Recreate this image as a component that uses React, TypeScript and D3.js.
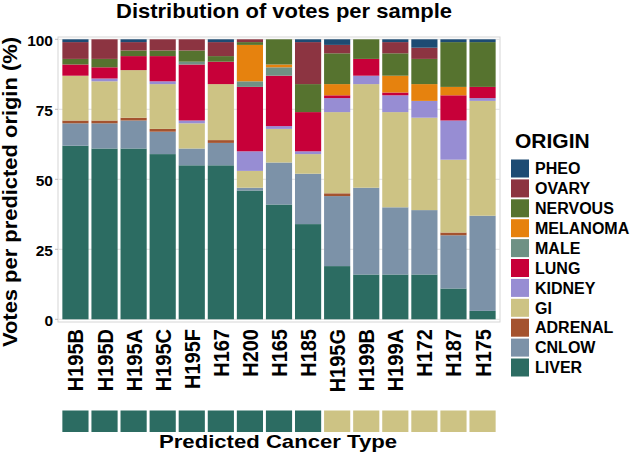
import React from 'react';
import * as d3 from 'd3';

// samples, left to right
const samples = ['H195B','H195D','H195A','H195C','H195F','H167','H200','H165','H185','H195G','H199B','H199A','H172','H187','H175'];
const predicted = ['LIVER','LIVER','LIVER','LIVER','LIVER','LIVER','LIVER','LIVER','LIVER','GI','GI','GI','GI','GI','GI'];

// votes (%) per origin, one value per sample
const LIVER    = [62,61,61,59,55,55,46,41,34,19,16,16,16,11,3];
const CNLOW    = [8,9,10,8,6,8,1,15,18,25,31,24,23,19,34];
const ADRENAL  = [1,1,1,1,0,1,0,0,0,1,0,0,0,1,0];
const GI       = [16,14,17,16,9,20,6,12,7,29,37,34,33,26,41];
const KIDNEY   = [0,1,0,1,1,0,7,1,1,5,3,6,6,14,1];
const LUNG     = [4,4,5,9,20,8,23,18,14,1,6,1,0,9,4];
const MALE     = [0,0,0,0,1,0,2,3,0,0,0,0,0,0,0];
const MELANOMA = [0,0,0,0,0,0,13,1,0,4,0,6,6,3,0];
const NERVOUS  = [2,3,2,2,4,2,1,9,10,11,7,8,9,16,16];
const OVARY    = [6,7,3,4,4,5,1,0,15,3,0,4,4,0,0];
const PHEO     = [1,0,1,0,0,1,0,0,1,2,0,1,3,1,1];

const yTicks = [0, 25, 50, 75, 100];

// stacking order, bottom to top
const origins = ['LIVER','CNLOW','ADRENAL','GI','KIDNEY','LUNG','MALE','MELANOMA','NERVOUS','OVARY','PHEO'];
const series: Record<string, number[]> = { LIVER, CNLOW, ADRENAL, GI, KIDNEY, LUNG, MALE, MELANOMA, NERVOUS, OVARY, PHEO };

const colors: Record<string, string> = {
  PHEO:     '#1d4b73',
  OVARY:    '#8c3441',
  NERVOUS:  '#56732f',
  MELANOMA: '#e6820e',
  MALE:     '#6f9184',
  LUNG:     '#c70039',
  KIDNEY:   '#978dd3',
  GI:       '#cdc384',
  ADRENAL:  '#a4532f',
  CNLOW:    '#7c92a8',
  LIVER:    '#2c6c62',
};

const font = "'Liberation Sans', Arial, sans-serif";

export default function App() {
  const W = 632, H = 455;
  const left = 58, right = 500, top = 39.3, bottom = 319.3;

  const x = d3.scaleBand<string>().domain(samples).range([left, right]).paddingInner(0.1).paddingOuter(0.15);
  const y = d3.scaleLinear().domain([0, 100]).range([bottom, top]);

  const rows = samples.map((s, i) => {
    const r: Record<string, any> = { sample: s };
    origins.forEach(o => { r[o] = series[o][i]; });
    return r;
  });
  const stacked = d3.stack<any>().keys(origins)(rows);

  const legendOrder = [...origins].reverse();

  return (
    <svg width={W} height={H} style={{ position: 'absolute', left: 0, top: 0, background: '#fff' }} fontFamily={font}>
      {/* title */}
      <text x={284} y={17.5} textAnchor="middle" fontSize={20.5} fontWeight="bold" textLength={336} lengthAdjust="spacingAndGlyphs">Distribution of votes per sample</text>

      {/* panel frame + grid */}
      <rect x={left} y={37} width={right - left} height={285} fill="none" stroke="#d6d6d6" strokeWidth={1} />
      {yTicks.map(t => (
        <line key={t} x1={left} x2={right} y1={y(t)} y2={y(t)} stroke="#e2e2e2" strokeWidth={1} />
      ))}

      {/* stacked bars */}
      {stacked.map(layer => (
        <g key={layer.key} fill={colors[layer.key]}>
          {layer.map((d, i) => (
            d[1] - d[0] > 0 ? (
              <rect key={i} x={x(samples[i])} y={y(d[1])} width={x.bandwidth()} height={y(d[0]) - y(d[1])} />
            ) : null
          ))}
        </g>
      ))}

      {/* y axis ticks */}
      {yTicks.map(t => (
        <g key={t}>
          <line x1={left - 3} x2={left} y1={y(t)} y2={y(t)} stroke="#bbb" />
          <text x={53} y={y(t) + 1} dy="0.36em" textAnchor="end" fontSize={15.5} fontWeight="bold">{t}</text>
        </g>
      ))}
      <text transform={`translate(17,192) rotate(-90)`} textAnchor="middle" fontSize={20} fontWeight="bold" textLength={310} lengthAdjust="spacingAndGlyphs">
        Votes per predicted origin (%)
      </text>

      {/* x labels */}
      {samples.map(s => (
        <text key={s} transform={`translate(${(x(s) as number) + x.bandwidth() / 2 + 8},329) rotate(-90) scale(1,1.1)`} textAnchor="end" fontSize={20} fontWeight="bold">{s}</text>
      ))}

      {/* predicted type strip */}
      {samples.map((s, i) => (
        <rect key={s} x={x(s)} y={410.5} width={x.bandwidth()} height={21.5} fill={colors[predicted[i]]} />
      ))}
      <text x={278} y={447.5} textAnchor="middle" fontSize={19} fontWeight="bold" textLength={238} lengthAdjust="spacingAndGlyphs">Predicted Cancer Type</text>

      {/* legend */}
      <text x={515} y={148} fontSize={21} fontWeight="bold">ORIGIN</text>
      {legendOrder.map((o, i) => (
        <g key={o} transform={`translate(511,${159.5 + i * 19.9})`}>
          <rect width={18} height={18} fill={colors[o]} />
          <text x={24} y={9} dy="0.36em" fontSize={16} fontWeight="bold">{o}</text>
        </g>
      ))}
    </svg>
  );
}
